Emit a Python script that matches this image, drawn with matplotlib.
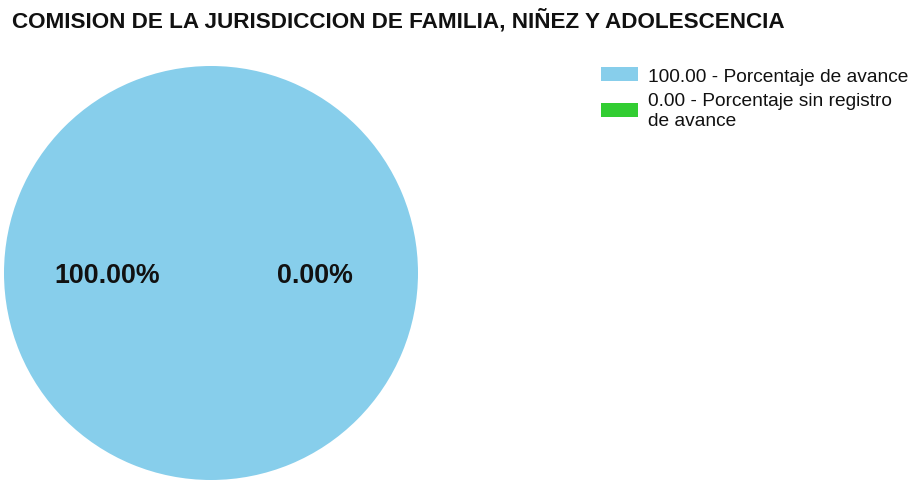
import matplotlib
matplotlib.use('Agg')
import matplotlib.pyplot as plt
from matplotlib.patches import Patch

# Data
titulo = 'COMISION DE LA JURISDICCION DE FAMILIA, NIÑEZ Y ADOLESCENCIA'
valores = [100.00, 0.00]
descripciones = ['Porcentaje de avance', 'Porcentaje sin registro\nde avance']
colores = ['#87CEEB', '#32CD32']

plt.rcParams['font.family'] = ['Liberation Sans', 'DejaVu Sans']

W, H = 912, 481
fig = plt.figure(figsize=(W / 100, H / 100), dpi=100)

# Pie axes in pixel coords (circle centre ~ (211, 274), radius ~207)
cx, cy, r = 211, 274, 207
ax = fig.add_axes([(cx - r) / W, (H - cy - r) / H, 2 * r / W, 2 * r / H])
wedges, texts, autotexts = ax.pie(valores, colors=colores, startangle=0,
                                  counterclock=True, radius=1,
                                  autopct='%.2f%%', pctdistance=0.5,
                                  wedgeprops=dict(linewidth=0),
                                  textprops=dict(fontsize=19.3, fontweight='bold', color='#111111'))
for t in autotexts:
    x, y = t.get_position()
    t.set_position((x, y - 0.01))
ax.set_xlim(-1, 1)
ax.set_ylim(-1, 1)
ax.set_aspect('equal')
ax.axis('off')

fig.text(12 / W, 1 - 21 / H, titulo, fontsize=16.2, fontweight='bold',
         va='center', ha='left', color='#111111')

handles = [Patch(facecolor=c, edgecolor='none') for c in colores]
etiquetas = ['%.2f - %s' % (v, d) for v, d in zip(valores, descripciones)]
leg = fig.legend(handles, etiquetas, loc='upper left',
                 bbox_to_anchor=(601 / W, 1 - 68 / H), frameon=False,
                 fontsize=13.8, handlelength=1.93, handleheight=0.73,
                 handletextpad=0.52, labelspacing=0.4, borderpad=0,
                 borderaxespad=0)
for t in leg.get_texts():
    t.set_linespacing(1.2)
    t.set_color('#111111')

fig.savefig('out.png', dpi=100)
